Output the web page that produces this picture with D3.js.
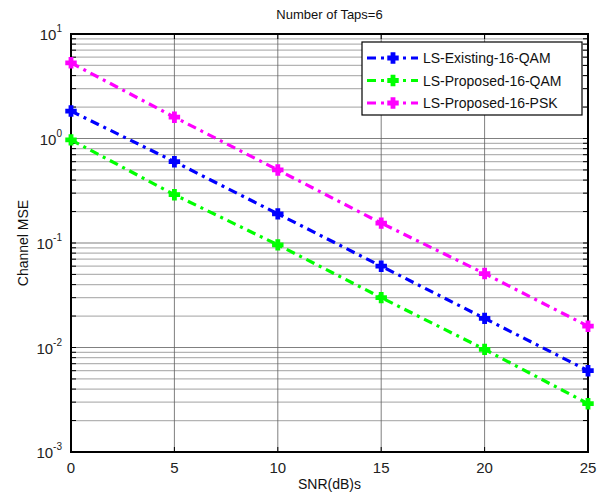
<!DOCTYPE html>
<html>
<head>
<meta charset="utf-8">
<script src="https://cdn.jsdelivr.net/npm/d3@7"></script>
<style>
  body { margin: 0; background: #fff; }
  svg { font-family: "Liberation Sans", Arial, sans-serif; }
</style>
</head>
<body>
<svg class="chart"></svg>
<script>
const snr = [0, 5, 10, 15, 20, 25];
const existingQam = [1.83, 0.6, 0.19, 0.06, 0.019, 0.006];
const proposedQam = [0.97, 0.29, 0.096, 0.03, 0.0096, 0.0029];
const proposedPsk = [5.3, 1.6, 0.5, 0.155, 0.051, 0.016];
const seriesNames = ["LS-Existing-16-QAM", "LS-Proposed-16-QAM", "LS-Proposed-16-PSK"];
const seriesColors = ["#0000ff", "#00ff00", "#ff00ff"];
const xTicks = [0, 5, 10, 15, 20, 25];
const yDecades = [-3, -2, -1, 0, 1];

const
  width = 602,
  height = 495,
  margin = {top: 34, right: 14, bottom: 43, left: 71},
  plotW = width - margin.left - margin.right,
  plotH = height - margin.top - margin.bottom;

const svg = d3.select(".chart")
  .attr("width", width)
  .attr("height", height);

const xScale = d3.scaleLinear().domain([0, 25]).range([0, plotW]);
const yScale = d3.scaleLog().domain([1e-3, 10]).range([plotH, 0]);

const g = svg.append("g")
  .attr("transform", `translate(${margin.left},${margin.top})`);

// minor grid values
const minor = [];
yDecades.slice(0, -1).forEach(e => {
  for (let k = 2; k <= 9; k++) minor.push(k * Math.pow(10, e));
});

g.selectAll(".hminor").data(minor).enter().append("line")
  .attr("x1", 0).attr("x2", plotW)
  .attr("y1", d => yScale(d)).attr("y2", d => yScale(d))
  .attr("stroke", "#b4b4b4").attr("stroke-width", 1.2);

g.selectAll(".hmajor").data(yDecades).enter().append("line")
  .attr("x1", 0).attr("x2", plotW)
  .attr("y1", d => yScale(Math.pow(10, d))).attr("y2", d => yScale(Math.pow(10, d)))
  .attr("stroke", "#808080").attr("stroke-width", 1.2);

g.selectAll(".vgrid").data(xTicks).enter().append("line")
  .attr("x1", d => xScale(d)).attr("x2", d => xScale(d))
  .attr("y1", 0).attr("y2", plotH)
  .attr("stroke", "#606060").attr("stroke-width", 0.8);

// ticks inside box
const tickLen = 5;
const yTickVals = minor.concat(yDecades.map(e => Math.pow(10, e)));
g.selectAll(".ytL").data(yTickVals).enter().append("line")
  .attr("x1", 0).attr("x2", tickLen)
  .attr("y1", d => yScale(d)).attr("y2", d => yScale(d))
  .attr("stroke", "#000");
g.selectAll(".ytR").data(yTickVals).enter().append("line")
  .attr("x1", plotW).attr("x2", plotW - tickLen)
  .attr("y1", d => yScale(d)).attr("y2", d => yScale(d))
  .attr("stroke", "#000");
g.selectAll(".xtB").data(xTicks).enter().append("line")
  .attr("x1", d => xScale(d)).attr("x2", d => xScale(d))
  .attr("y1", plotH).attr("y2", plotH - tickLen)
  .attr("stroke", "#000");
g.selectAll(".xtT").data(xTicks).enter().append("line")
  .attr("x1", d => xScale(d)).attr("x2", d => xScale(d))
  .attr("y1", 0).attr("y2", tickLen)
  .attr("stroke", "#000");

// box
g.append("rect")
  .attr("width", plotW).attr("height", plotH)
  .attr("fill", "none").attr("stroke", "#000").attr("stroke-width", 2);

// x tick labels
g.selectAll(".xl").data(xTicks).enter().append("text")
  .attr("x", d => xScale(d)).attr("y", plotH + 21)
  .attr("text-anchor", "middle").attr("font-size", 15).attr("fill", "#222")
  .text(d => d);

// y tick labels 10^e
const yl = g.selectAll(".yl").data(yDecades).enter().append("text")
  .attr("x", -9).attr("y", d => yScale(Math.pow(10, d)) + 6)
  .attr("text-anchor", "end").attr("font-size", 15).attr("fill", "#222");
yl.append("tspan").text("10");
yl.append("tspan").attr("dy", -8).attr("font-size", 10).text(d => d);

// lines
const allSeries = [existingQam, proposedQam, proposedPsk];
const line = d3.line()
  .x((d, i) => xScale(snr[i]))
  .y(d => yScale(d));

const marker = d3.symbol().type(d3.symbolCross).size(55);

allSeries.forEach((vals, si) => {
  g.append("path")
    .datum(vals)
    .attr("d", line)
    .attr("fill", "none")
    .attr("stroke", seriesColors[si])
    .attr("stroke-width", 3.2)
    .attr("stroke-dasharray", "9,5,3,5");
  g.selectAll(".m" + si).data(vals).enter().append("path")
    .attr("d", marker)
    .attr("transform", (d, i) => `translate(${xScale(snr[i])},${yScale(d)})`)
    .attr("fill", seriesColors[si])
    .attr("stroke", seriesColors[si])
    .attr("stroke-width", 1.5);
});

// legend
const legX = 362 - margin.left, legY = 42 - margin.top;
const leg = g.append("g").attr("transform", `translate(${legX},${legY})`);
leg.append("rect")
  .attr("width", 220).attr("height", 73)
  .attr("fill", "#fff").attr("stroke", "#000").attr("stroke-width", 1.2);
seriesNames.forEach((name, i) => {
  const yy = 16 + i * 22.5;
  leg.append("line")
    .attr("x1", 5).attr("x2", 56).attr("y1", yy).attr("y2", yy)
    .attr("stroke", seriesColors[i]).attr("stroke-width", 3.2)
    .attr("stroke-dasharray", "9,5,3,5");
  leg.append("path")
    .attr("d", marker)
    .attr("transform", `translate(31,${yy})`)
    .attr("fill", seriesColors[i]).attr("stroke", seriesColors[i]).attr("stroke-width", 1.5);
  leg.append("text")
    .attr("x", 61).attr("y", yy + 5)
    .attr("font-size", 14).attr("fill", "#111")
    .text(name);
});

// title and axis labels
svg.append("text")
  .attr("x", margin.left + plotW / 2).attr("y", 19)
  .attr("text-anchor", "middle").attr("font-size", 13).attr("fill", "#111")
  .text("Number of Taps=6");

svg.append("text")
  .attr("x", margin.left + plotW / 2).attr("y", height - 6)
  .attr("text-anchor", "middle").attr("font-size", 14).attr("fill", "#111")
  .text("SNR(dB)s");

svg.append("text")
  .attr("transform", `translate(28,${margin.top + plotH / 2}) rotate(-90)`)
  .attr("text-anchor", "middle").attr("font-size", 14).attr("fill", "#111")
  .text("Channel MSE");
</script>
</body>
</html>
